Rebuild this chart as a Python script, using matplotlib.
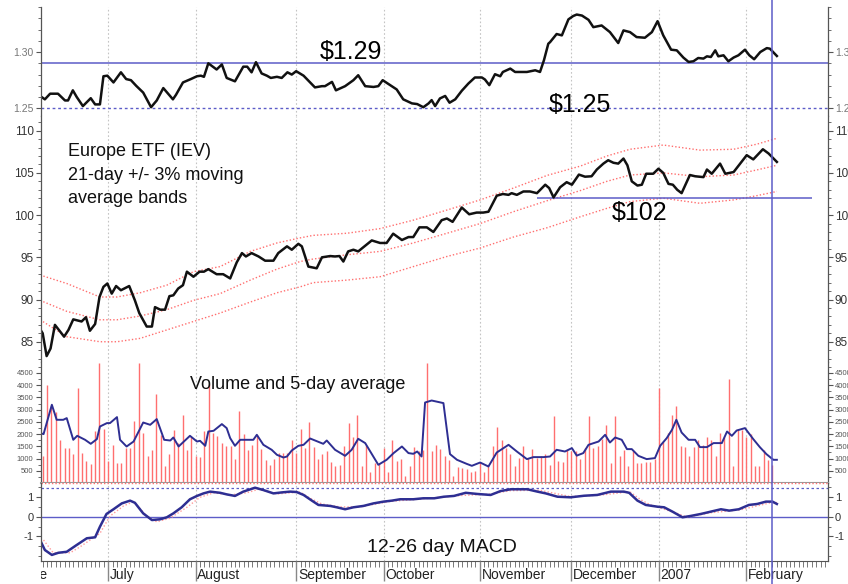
import matplotlib
matplotlib.use("Agg")
import matplotlib.pyplot as plt
from matplotlib.lines import Line2D
from matplotlib.transforms import blended_transform_factory
import numpy as np

plt.rcParams['font.family'] = ['Liberation Sans', 'DejaVu Sans']
plt.rcParams['axes.unicode_minus'] = False

# x axis is the trading day number, day 0 = 12 June 2006
month_names = ["June", "July", "August", "September", "October", "November", "December", "2007", "February"]
month_days = [-6, 15, 35, 58, 78, 100, 121, 141, 161]
marker_day = 167

# euro in dollars
fx_day = [-0.6, 0.5, 1.7, 3.5, 5.1, 5.8, 6.9, 7.8, 9.2, 11.0, 12.0, 13.1, 13.9, 14.8, 16.2, 17.9, 19.1, 20.2,
          21.4, 23.0, 24.8, 26.1, 27.6, 29.8, 30.5, 32.1, 33.9, 35.3, 36.2, 36.9, 37.9, 39.8, 41.0, 42.1, 44.0,
          45.9, 46.8, 47.8, 48.8, 50.1, 51.3, 52.2, 53.6, 54.7, 56.0, 57.0, 58.0, 59.7, 62.3, 63.9, 64.6, 66.2,
          67.1, 69.2, 71.1, 72.2, 73.8, 75.7, 76.8, 77.8, 79.5, 81.0, 82.5, 84.5, 85.7, 87.1, 88.3, 89.0, 89.8,
          90.9, 92.1, 93.1, 94.4, 95.9, 97.4, 98.9, 100.5, 101.2, 102.2, 103.5, 104.7, 105.3, 107.0, 108.1,
          110.8, 112.7, 113.8, 114.7, 115.7, 116.1, 117.6, 118.8, 120.3, 121.4, 122.2, 123.4, 124.9, 126.0,
          127.9, 129.8, 131.7, 132.9, 134.4, 135.9, 137.8, 139.4, 140.7, 142.0, 143.8, 145.1, 146.6, 147.8,
          148.9, 150.0, 151.2, 152.0, 152.9, 153.9, 154.6, 155.8, 156.9, 158.1, 159.2, 160.7, 161.7, 162.8,
          164.2, 165.7, 166.4, 168.0]
fx_rate = [1.261, 1.258, 1.263, 1.263, 1.257, 1.257, 1.266, 1.260, 1.252, 1.259, 1.2535, 1.2535, 1.2785, 1.279,
           1.273, 1.282, 1.276, 1.275, 1.270, 1.264, 1.251, 1.257, 1.268, 1.258, 1.262, 1.273, 1.276, 1.2785,
           1.279, 1.278, 1.290, 1.2845, 1.289, 1.277, 1.274, 1.287, 1.287, 1.282, 1.291, 1.281, 1.279, 1.277,
           1.278, 1.277, 1.282, 1.280, 1.283, 1.279, 1.2686, 1.2697, 1.2697, 1.2735, 1.266, 1.2697, 1.275,
           1.2794, 1.2697, 1.269, 1.2697, 1.275, 1.2706, 1.2668, 1.258, 1.2544, 1.2538, 1.251, 1.2544, 1.2573,
           1.252, 1.2588, 1.261, 1.255, 1.258, 1.2656, 1.272, 1.2774, 1.2774, 1.2756, 1.2706, 1.2803, 1.2785,
           1.2823, 1.2853, 1.2823, 1.2823, 1.2838, 1.2823, 1.2927, 1.3074, 1.3088, 1.316, 1.3148, 1.329, 1.332,
           1.3333, 1.3324, 1.3286, 1.3221, 1.3236, 1.3177, 1.308, 1.3192, 1.3177, 1.3133, 1.3127, 1.3177,
           1.3274, 1.3148, 1.3021, 1.3015, 1.2951, 1.2912, 1.2918, 1.2947, 1.2942, 1.2962, 1.2956, 1.3015,
           1.2962, 1.2971, 1.2918, 1.2951, 1.2971, 1.3021, 1.2971, 1.2936, 1.300, 1.3035, 1.303, 1.2965]
fx_levels = [1.29, 1.25]

# IEV close
px_day = [-0.6, 0.0, 0.9, 1.8, 2.8, 4.9, 5.9, 7.0, 8.9, 9.9, 10.8, 12.0, 13.0, 13.9, 14.8, 15.8, 16.8, 17.9,
          19.8, 21.1, 22.1, 23.8, 25.0, 25.7, 26.9, 28.0, 29.0, 29.9, 31.0, 32.1, 33.0, 34.5, 35.9, 36.9, 37.9,
          39.8, 41.3, 42.9, 44.4, 45.6, 46.5, 47.8, 49.4, 50.9, 52.8, 53.9, 55.9, 57.0, 58.5, 59.3, 60.8, 62.7,
          63.9, 65.8, 66.9, 67.9, 68.8, 69.9, 71.1, 72.2, 75.3, 77.2, 78.7, 80.2, 82.2, 83.7, 84.8, 86.2, 87.9,
          89.4, 91.3, 92.5, 93.8, 95.9, 97.6, 99.3, 100.8, 102.0, 103.9, 105.3, 106.6, 107.3, 108.5, 110.0,
          111.5, 113.1, 115.0, 115.9, 116.9, 118.4, 119.9, 121.1, 122.7, 124.1, 125.6, 126.8, 128.3, 129.4,
          130.6, 131.7, 132.9, 133.8, 134.8, 136.1, 137.1, 138.1, 139.7, 140.9, 142.0, 143.2, 144.2, 145.2,
          146.2, 148.1, 149.3, 151.2, 152.0, 153.1, 155.0, 156.2, 158.1, 159.6, 161.1, 162.6, 164.8, 166.1, 168.0]
px_close = [86.5, 86.0, 83.3, 84.2, 87.0, 85.6, 86.4, 87.65, 87.4, 87.9, 86.3, 87.1, 90.3, 91.5, 91.9, 90.7,
            91.6, 91.1, 91.6, 89.9, 88.4, 86.8, 86.8, 89.1, 88.8, 88.8, 90.4, 90.5, 91.3, 91.7, 93.3, 92.7, 93.3,
            93.3, 93.6, 93.0, 93.0, 92.5, 94.4, 95.5, 95.1, 95.5, 95.1, 94.6, 94.6, 95.5, 96.3, 95.9, 96.6, 96.3,
            93.9, 93.7, 95.0, 95.15, 95.1, 95.15, 94.5, 95.7, 95.9, 95.7, 97.0, 96.7, 96.7, 97.8, 97.05, 97.4,
            97.4, 98.55, 98.55, 98.0, 99.4, 99.6, 99.2, 100.9, 100.1, 100.3, 100.3, 100.4, 102.3, 102.5, 102.4,
            102.6, 102.4, 102.8, 102.8, 102.6, 103.6, 103.2, 102.1, 103.3, 103.9, 103.6, 104.8, 104.55, 104.6,
            105.4, 106.1, 106.5, 106.2, 106.1, 106.7, 105.9, 104.0, 103.5, 103.6, 104.9, 104.9, 105.5, 105.0,
            103.7, 103.6, 103.0, 102.6, 104.75, 104.6, 104.5, 105.4, 104.9, 106.1, 104.9, 105.1, 106.1, 107.1,
            106.6, 107.8, 107.3, 106.3]

band_day = [-0.6, 5.5, 13.1, 17.0, 22.3, 28.4, 34.5, 40.6, 47.5, 53.6, 58.9, 61.9, 69.6, 77.2, 84.8, 92.5,
            100.1, 107.7, 115.4, 123.0, 129.1, 134.4, 142.0, 150.4, 158.1, 163.4, 168.0]
band_upper = [92.9, 91.9, 90.3, 90.3, 90.8, 91.7, 93.3, 93.9, 95.7, 96.7, 97.3, 97.6, 97.85, 98.4, 99.4, 100.6,
              101.8, 103.2, 104.7, 105.8, 107.0, 107.8, 108.3, 107.7, 107.8, 108.4, 109.1]
band_mid = [89.9, 88.6, 87.6, 87.6, 88.05, 88.8, 89.9, 90.7, 92.3, 93.6, 94.5, 94.8, 95.3, 95.7, 96.7, 97.85,
            99.0, 100.4, 101.7, 102.9, 104.0, 104.75, 105.0, 104.55, 104.75, 105.35, 105.9]
band_lower = [87.6, 85.6, 85.0, 85.0, 85.4, 86.4, 87.4, 88.4, 89.7, 90.8, 91.5, 92.0, 92.3, 92.7, 93.9, 95.1,
              96.1, 97.4, 98.5, 99.8, 100.8, 101.6, 102.0, 101.4, 101.8, 102.3, 102.8]
support_level = 102
support_span = (113, 176)

# daily volume (hundreds of shares), one bar per trading day from day 0
volume = [1084, 4016, 3129, 2924, 1767, 1427, 1427, 1194, 3881, 1247, 908, 785, 2135, 4928, 2204, 920, 1562,
          814, 814, 1427, 1427, 2556, 4928, 2040, 1084, 1358, 3636, 1971, 675, 1182, 2176, 1656, 2789, 1330,
          1861, 1084, 1043, 2135, 4057, 2065, 1930, 1632, 1521, 1521, 977, 2965, 2000, 1330, 1562, 1971, 1386,
          949, 744, 977, 1223, 1223, 1247, 1767, 1247, 2216, 1427, 2515, 1468, 977, 1194, 1290, 867, 675, 744,
          1521, 2450, 1861, 2789, 703, 1562, 446, 838, 814, 1427, 446, 1767, 908, 977, 266, 703, 1468, 1290,
          1330, 4900, 1290, 1562, 1386, 1084, 949, 266, 660, 620, 570, 430, 500, 867, 430, 675, 1521, 2300,
          1767, 1427, 1194, 675, 1018, 1521, 1018, 1386, 1018, 1100, 1200, 744, 2730, 900, 867, 1370, 1300,
          1300, 977, 1427, 2720, 1427, 1521, 1795, 2380, 814, 2740, 1084, 1358, 675, 1290, 814, 814, 867, 867,
          977, 3880, 1697, 2065, 2800, 3129, 1521, 1468, 1084, 1468, 1767, 1562, 1861, 1767, 1084, 2040, 1900,
          4250, 703, 2200, 2170, 1900, 2000, 703, 703, 1330, 949, 744]

vavg_day = [-0.6, 0.2, 2.1, 3.2, 4.7, 5.5, 7.0, 7.9, 9.7, 11.0, 12.4, 13.1, 14.7, 15.4, 17.0, 17.7, 19.2, 20.8,
            23.0, 24.6, 26.1, 27.8, 29.2, 29.9, 31.1, 33.7, 35.3, 36.0, 37.2, 37.9, 39.1, 41.0, 42.1, 42.9, 44.0,
            45.2, 48.2, 49.0, 50.5, 52.4, 53.6, 55.1, 55.9, 57.0, 58.5, 59.7, 61.2, 64.2, 65.0, 66.9, 69.2, 70.7,
            72.2, 73.8, 76.8, 78.7, 80.3, 82.2, 83.7, 84.8, 85.7, 86.7, 87.5, 89.0, 91.7, 93.2, 94.8, 97.0, 98.2,
            100.1, 102.0, 103.9, 106.6, 108.5, 110.8, 112.3, 114.6, 116.1, 117.6, 119.5, 121.1, 122.2, 123.7,
            124.9, 127.2, 128.7, 129.8, 131.0, 132.5, 133.7, 134.8, 136.3, 138.2, 140.1, 141.3, 142.8, 144.0,
            145.0, 146.2, 147.8, 149.3, 150.4, 152.0, 153.5, 155.4, 156.6, 157.7, 158.8, 160.7, 162.6, 164.1,
            165.6, 167.2, 168.0]
vavg = [2040, 2000, 3200, 2585, 2585, 2654, 1767, 1930, 1767, 1603, 1795, 2310, 2450, 2450, 2695, 1767, 1493,
        1697, 2474, 2380, 2613, 1767, 1738, 1861, 1493, 1930, 1697, 1726, 1521, 2106, 2135, 2409, 2245, 1836,
        1521, 1767, 1767, 1971, 1562, 1358, 1153, 1043, 1084, 1330, 1521, 1562, 1820, 1603, 1738, 1358, 1112,
        1358, 1808, 1632, 744, 949, 1223, 1493, 1223, 1194, 1288, 1084, 3292, 3374, 3268, 1182, 949, 785, 703,
        838, 675, 1247, 1562, 1288, 977, 1059, 1059, 1084, 1358, 1288, 1427, 1120, 1223, 1562, 1697, 1971,
        1656, 1861, 1767, 1386, 1386, 1112, 977, 1018, 1521, 1836, 2176, 2585, 2065, 1767, 1767, 1468, 1468,
        1632, 1632, 2106, 1930, 2147, 2245, 1795, 1468, 1182, 949, 949]

# MACD 12-26 and its signal line
macd_day = [-0.6, 0.5, 2.1, 3.6, 5.5, 7.8, 10.1, 12.0, 13.1, 14.6, 16.2, 18.1, 20.0, 21.1, 23.0, 25.0, 26.9,
            28.4, 29.9, 31.8, 33.7, 35.3, 36.8, 38.3, 40.6, 42.1, 44.0, 45.9, 48.6, 50.5, 52.8, 54.7, 56.6, 58.1,
            59.7, 61.6, 63.1, 65.8, 67.3, 69.2, 71.1, 73.4, 75.7, 78.0, 79.9, 81.8, 84.8, 87.1, 89.6, 91.8, 94.1,
            96.8, 99.5, 102.5, 104.8, 107.1, 110.9, 113.2, 115.1, 117.8, 120.8, 123.9, 126.9, 130.0, 133.0,
            134.2, 136.1, 138.0, 140.7, 142.2, 144.1, 146.4, 148.3, 150.6, 152.9, 155.2, 157.1, 159.3, 161.6,
            163.5, 165.5, 167.0, 168.0]
macd = [-1.19, -1.70, -1.95, -1.84, -1.79, -1.44, -1.10, -1.05, -0.51, 0.14, 0.38, 0.68, 0.82, 0.71, 0.17,
        -0.17, -0.13, -0.03, 0.17, 0.48, 0.89, 1.06, 1.19, 1.28, 1.22, 1.14, 1.06, 1.28, 1.48, 1.36, 1.19, 1.24,
        1.28, 1.26, 1.11, 0.82, 0.60, 0.55, 0.48, 0.38, 0.48, 0.55, 0.68, 0.77, 0.82, 0.89, 0.89, 0.94, 0.94,
        1.02, 1.06, 1.22, 1.16, 1.11, 1.31, 1.40, 1.40, 1.28, 1.19, 1.02, 0.99, 1.07, 1.11, 1.28, 1.28, 1.22,
        0.82, 0.60, 0.51, 0.48, 0.26, -0.03, 0.04, 0.14, 0.26, 0.38, 0.31, 0.38, 0.60, 0.65, 0.77, 0.77, 0.65]
signal_day = [0.2, 2.4, 6.3, 8.6, 13.1, 15.4, 18.5, 20.8, 23.8, 26.1, 29.1, 33.0, 36.0, 39.1, 42.9, 46.7, 49.4,
              53.6, 58.9, 61.2, 63.9, 68.0, 72.6, 79.5, 86.4, 95.5, 102.4, 107.0, 113.8, 120.7, 127.5, 134.4,
              136.9, 139.1, 145.2, 147.5, 152.7, 159.6, 166.7, 168.0]
signal = [-1.19, -1.84, -1.84, -1.53, -0.85, 0.03, 0.55, 0.77, 0.03, -0.26, -0.08, 0.48, 0.99, 1.22, 1.11,
          1.22, 1.40, 1.16, 1.26, 0.94, 0.65, 0.50, 0.50, 0.78, 0.90, 1.08, 1.15, 1.33, 1.35, 1.03, 1.10, 1.27,
          0.86, 0.60, 0.17, -0.03, 0.20, 0.35, 0.72, 0.72]
macd_levels = [0, 1.45]

XLIM = (-0.5, 179.7)
BLUE = '#5c5cc8'
NAVY = '#2e2e92'
RED = '#ff6f6f'

fig = plt.figure(figsize=(8.48, 5.84), dpi=100)


def box(top, bottom):
    # pixel rows -> figure fraction
    return [40.5 / 848, 1 - bottom / 584, 787.5 / 848, (bottom - top) / 584]


def style(ax, lab_color, lab_size):
    ax.set_xlim(*XLIM)
    ax.spines['top'].set_visible(False)
    ax.spines['bottom'].set_visible(False)
    for s in ('left', 'right'):
        ax.spines[s].set_color('#555555')
        ax.spines[s].set_linewidth(0.9)
    ax.tick_params(axis='y', which='both', direction='out', left=True, right=True,
                   labelleft=True, labelright=True, color='#555555',
                   labelcolor=lab_color, labelsize=lab_size, pad=1.5)
    ax.tick_params(axis='y', which='major', length=3.5, width=0.8)
    ax.tick_params(axis='y', which='minor', length=2, width=0.6)
    ax.tick_params(axis='x', which='both', bottom=False, labelbottom=False)
    for m in month_days[1:]:
        ax.axvline(m, color='#c4c4c4', ls=(0, (1.5, 2)), lw=0.8, zorder=0)


# currency panel
ax_fx = fig.add_axes(box(7, 116))
style(ax_fx, '#777777', 7.5)
ax_fx.set_ylim(1.2432, 1.3395)
ax_fx.set_yticks([1.25, 1.30])
ax_fx.set_yticklabels(['1.25', '1.30'])
ax_fx.set_yticks(np.arange(1.25, 1.34, 0.01), minor=True)
ax_fx.axhline(fx_levels[0], color=BLUE, lw=1.1)
ax_fx.axhline(fx_levels[1], color=BLUE, lw=1.0, ls=(0, (2, 2)))
ax_fx.plot(fx_day, fx_rate, color='#111111', lw=1.8)
ax_fx.text(63.5, 1.2942, '$1.29', fontsize=18, va='baseline')
ax_fx.text(115.7, 1.2470, '$1.25', fontsize=18, va='baseline')

# price panel
ax_px = fig.add_axes(box(116, 362))
style(ax_px, '#333333', 8.5)
ax_px.set_ylim(82.6, 111.74)
ax_px.set_yticks([85, 90, 95, 100, 105, 110])
ax_px.set_yticks(np.arange(83, 112, 1), minor=True)
for band in (band_upper, band_mid, band_lower):
    ax_px.plot(band_day, band, color=RED, lw=1.0, ls=(0, (1, 1.5)))
ax_px.hlines(support_level, *support_span, color=BLUE, lw=1.1)
ax_px.plot(px_day, px_close, color='#111111', lw=1.8)
ax_px.text(130.2, 99.42, '$102', fontsize=18, va='baseline')
# multi-line text: 'baseline' pins the last line
ax_px.text(5.9, 101.4, 'Europe ETF (IEV)\n21-day +/- 3% moving\naverage bands',
           fontsize=13, va='baseline', linespacing=1.5, color='#111111')

# volume panel
ax_vol = fig.add_axes(box(362, 483))
style(ax_vol, '#555555', 5.5)
ax_vol.spines['bottom'].set_visible(True)
ax_vol.spines['bottom'].set_color('#999999')
ax_vol.spines['bottom'].set_linewidth(1.5)
ax_vol.set_ylim(0, 4949)
ax_vol.set_yticks(np.arange(500, 4501, 500))
ax_vol.set_yticks(np.arange(250, 4900, 250), minor=True)
ax_vol.vlines(np.arange(len(volume)), 0, volume, color=RED, lw=1.0)
ax_vol.plot(vavg_day, vavg, color=NAVY, lw=1.4)
ax_vol.text(33.7, 3840, 'Volume and 5-day average', fontsize=13, va='baseline', color='#111111')

# MACD panel
ax_macd = fig.add_axes(box(483, 561))
style(ax_macd, '#333333', 8)
ax_macd.spines['bottom'].set_visible(True)
ax_macd.spines['bottom'].set_color('#555555')
ax_macd.set_ylim(-2.26, 1.72)
ax_macd.set_yticks([-1, 0, 1])
ax_macd.set_yticks(np.arange(-2, 1.6, 0.5), minor=True)
ax_macd.set_xticks(np.arange(0, 180))
ax_macd.tick_params(axis='x', which='major', bottom=True, length=4, width=0.7, color='#777777',
                    direction='out')
ax_macd.axhline(1.72, color=RED, lw=1.0, ls=(0, (1, 1.5)), clip_on=False)
ax_macd.axhline(macd_levels[0], color=BLUE, lw=1.0)
ax_macd.axhline(macd_levels[1], color=BLUE, lw=0.9, ls=(0, (2, 2)))
ax_macd.plot(signal_day, signal, color='#ff9a9a', lw=1.0, ls=(0, (1, 1.5)))
ax_macd.plot(macd_day, macd, color=NAVY, lw=1.8)
ax_macd.text(74.2, -1.79, '12-26 day MACD', fontsize=14, va='baseline', color='#111111')

# month strip
ax_lab = fig.add_axes(box(561, 584))
ax_lab.set_xlim(*XLIM)
ax_lab.set_ylim(0, 1)
ax_lab.axis('off')
ax_lab.vlines(month_days, 0.15, 1, color='#888888', lw=1.0)
for name, d in zip(month_names, month_days):
    ax_lab.text(d + 0.4, 0.2, name, fontsize=10, va='baseline', ha='left', color='#222222', clip_on=True)

# today marker through all panels
trans = blended_transform_factory(ax_macd.transData, fig.transFigure)
fig.add_artist(Line2D([marker_day, marker_day], [0, 1], transform=trans, color=BLUE, lw=1.1))

fig.savefig('out.png', dpi=100)
